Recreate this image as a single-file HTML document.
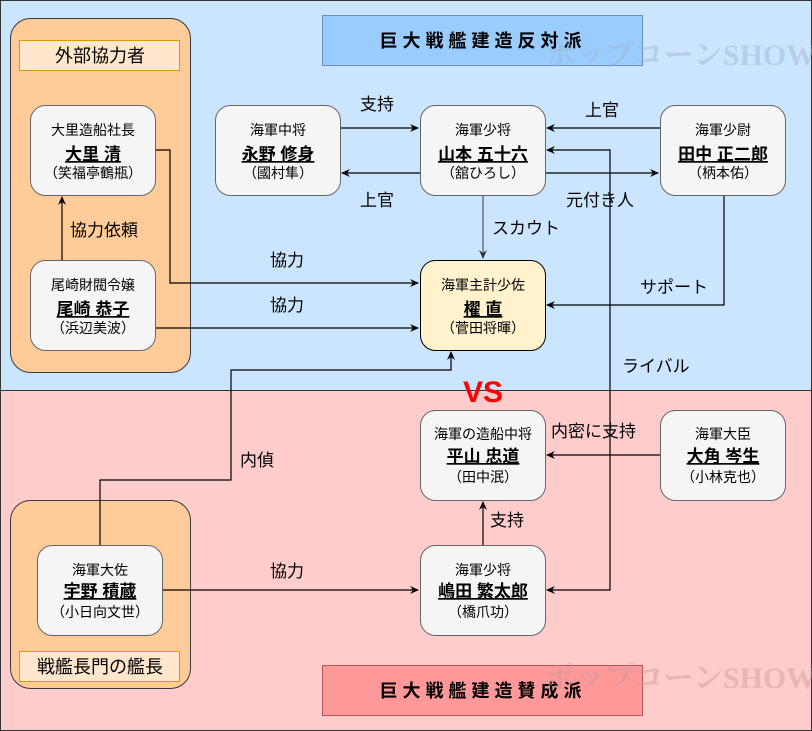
<html><head><style>
body{margin:0}
svg text{font-family:"Liberation Sans","Noto Sans CJK JP",sans-serif}
</style></head><body>
<svg width="812" height="731" xmlns="http://www.w3.org/2000/svg">
<defs><marker id="a" markerWidth="10" markerHeight="10" refX="8" refY="5" orient="auto-start-reverse" markerUnits="userSpaceOnUse"><path d="M0,1 L9,5 L0,9 L3,5z" fill="#000"/></marker>
<marker id="g" markerWidth="10" markerHeight="10" refX="8" refY="5" orient="auto" markerUnits="userSpaceOnUse"><path d="M0,1 L9,5 L0,9 L3,5z" fill="#333"/></marker></defs>
<rect x="0.5" y="0.5" width="811" height="390" fill="#cce5ff" stroke="#333"/>
<rect x="0.5" y="390.5" width="811" height="340" fill="#ffcccc" stroke="#333"/>
<rect x="10.5" y="18.5" width="180" height="354" rx="20" fill="#ffcc99" stroke="#36393d"/>
<rect x="19.5" y="40.5" width="160" height="30" fill="#ffe6cc" stroke="#d79b00"/>
<text x="100" y="62" font-size="18" text-anchor="middle">外部協力者</text>
<rect x="10.5" y="500.5" width="180" height="188" rx="20" fill="#ffcc99" stroke="#36393d"/>
<rect x="19.5" y="651.5" width="160" height="30" fill="#ffe6cc" stroke="#d79b00"/>
<text x="100" y="673" font-size="18" text-anchor="middle">戦艦長門の艦長</text>
<rect x="322.5" y="15.5" width="320" height="50" fill="#99ccff" stroke="#6c8ebf"/>
<text x="483" y="47" font-size="18" font-weight="bold" text-anchor="middle" letter-spacing="5">巨大戦艦建造反対派</text>
<rect x="322.5" y="665.5" width="320" height="50" fill="#ff9999" stroke="#b85450"/>
<text x="483" y="697" font-size="18" font-weight="bold" text-anchor="middle" letter-spacing="5">巨大戦艦建造賛成派</text>
<text x="545" y="65" font-size="30" font-weight="bold" fill="#9fb4c8" opacity="0.45" style="font-family:'Liberation Serif','Noto Serif CJK SC',serif">ポップコーンSHOW</text>
<text x="545" y="688" font-size="30" font-weight="bold" fill="#c89a9a" opacity="0.45" style="font-family:'Liberation Serif','Noto Serif CJK SC',serif">ポップコーンSHOW</text>
<g fill="none" stroke="#000" stroke-width="1.2">
<path d="M340,128H418" marker-end="url(#a)"/>
<path d="M420,173H342" marker-end="url(#a)"/>
<path d="M660,128H547" marker-end="url(#a)"/>
<path d="M545,173H658" marker-end="url(#a)"/>
<path d="M483,195V258" stroke="#555" marker-end="url(#g)"/>
<path d="M155,150H170V283H418" marker-end="url(#a)"/>
<path d="M155,328H418" marker-end="url(#a)"/>
<path d="M724,195V305H547" marker-end="url(#a)"/>
<path d="M547,590H610V150H547" marker-start="url(#a)" marker-end="url(#a)"/>
<path d="M62,260V197" marker-end="url(#a)"/>
<path d="M100,545V480H231V370H451V352" marker-end="url(#a)"/>
<path d="M163,590H418" marker-end="url(#a)"/>
<path d="M483,545V502" marker-end="url(#a)"/>
<path d="M660,455H547" marker-end="url(#a)"/>
</g>
<g fill="#f5f5f5" stroke="#666">
<rect x="30.5" y="105.5" width="125" height="90" rx="15"/>
<rect x="30.5" y="260.5" width="125" height="90" rx="15"/>
<rect x="215.5" y="105.5" width="125" height="90" rx="15"/>
<rect x="420.5" y="105.5" width="125" height="90" rx="15"/>
<rect x="660.5" y="105.5" width="125" height="90" rx="15"/>
<rect x="420.5" y="260.5" width="125" height="90" rx="15" fill="#fff2cc" stroke="#000"/>
<rect x="420.5" y="410.5" width="125" height="90" rx="15"/>
<rect x="660.5" y="410.5" width="125" height="90" rx="15"/>
<rect x="37.5" y="545.5" width="125" height="90" rx="15"/>
<rect x="420.5" y="545.5" width="125" height="90" rx="15"/>
</g>
<g font-size="14" text-anchor="middle">
<text x="93" y="135">大里造船社長</text><text x="93" y="160" font-size="17" font-weight="bold" text-decoration="underline">大里 清</text><text x="93" y="178">（笑福亭鶴瓶）</text>
<text x="93" y="290">尾崎財閥令嬢</text><text x="93" y="315" font-size="17" font-weight="bold" text-decoration="underline">尾崎 恭子</text><text x="93" y="333">（浜辺美波）</text>
<text x="278" y="135">海軍中将</text><text x="278" y="160" font-size="17" font-weight="bold" text-decoration="underline">永野 修身</text><text x="278" y="178">（國村隼）</text>
<text x="483" y="135">海軍少将</text><text x="483" y="160" font-size="17" font-weight="bold" text-decoration="underline">山本 五十六</text><text x="483" y="178">（舘ひろし）</text>
<text x="723" y="135">海軍少尉</text><text x="723" y="160" font-size="17" font-weight="bold" text-decoration="underline">田中 正二郎</text><text x="723" y="178">（柄本佑）</text>
<text x="483" y="290">海軍主計少佐</text><text x="483" y="315" font-size="17" font-weight="bold" text-decoration="underline">櫂 直</text><text x="483" y="333">（菅田将暉）</text>
<text x="483" y="439">海軍の造船中将</text><text x="483" y="462" font-size="17" font-weight="bold" text-decoration="underline">平山 忠道</text><text x="483" y="482">（田中泯）</text>
<text x="723" y="439">海軍大臣</text><text x="723" y="462" font-size="17" font-weight="bold" text-decoration="underline">大角 岑生</text><text x="723" y="482">（小林克也）</text>
<text x="100" y="575">海軍大佐</text><text x="100" y="597" font-size="17" font-weight="bold" text-decoration="underline">宇野 積蔵</text><text x="100" y="617">（小日向文世）</text>
<text x="483" y="575">海軍少将</text><text x="483" y="597" font-size="17" font-weight="bold" text-decoration="underline">嶋田 繁太郎</text><text x="483" y="617">（橋爪功）</text>
</g>
<g font-size="17">
<text x="360" y="110">支持</text><text x="360" y="206">上官</text><text x="585" y="116">上官</text>
<text x="566" y="206">元付き人</text><text x="492" y="234">スカウト</text>
<text x="70" y="236">協力依頼</text><text x="270" y="266">協力</text><text x="270" y="311">協力</text>
<text x="640" y="293">サポート</text><text x="622" y="372">ライバル</text>
<text x="240" y="466">内偵</text><text x="551" y="437">内密に支持</text>
<text x="490" y="526">支持</text><text x="270" y="577">協力</text>
</g>
<text x="483" y="402" font-size="30" font-weight="bold" fill="#ff0000" text-anchor="middle">VS</text>
</svg>
</body></html>
